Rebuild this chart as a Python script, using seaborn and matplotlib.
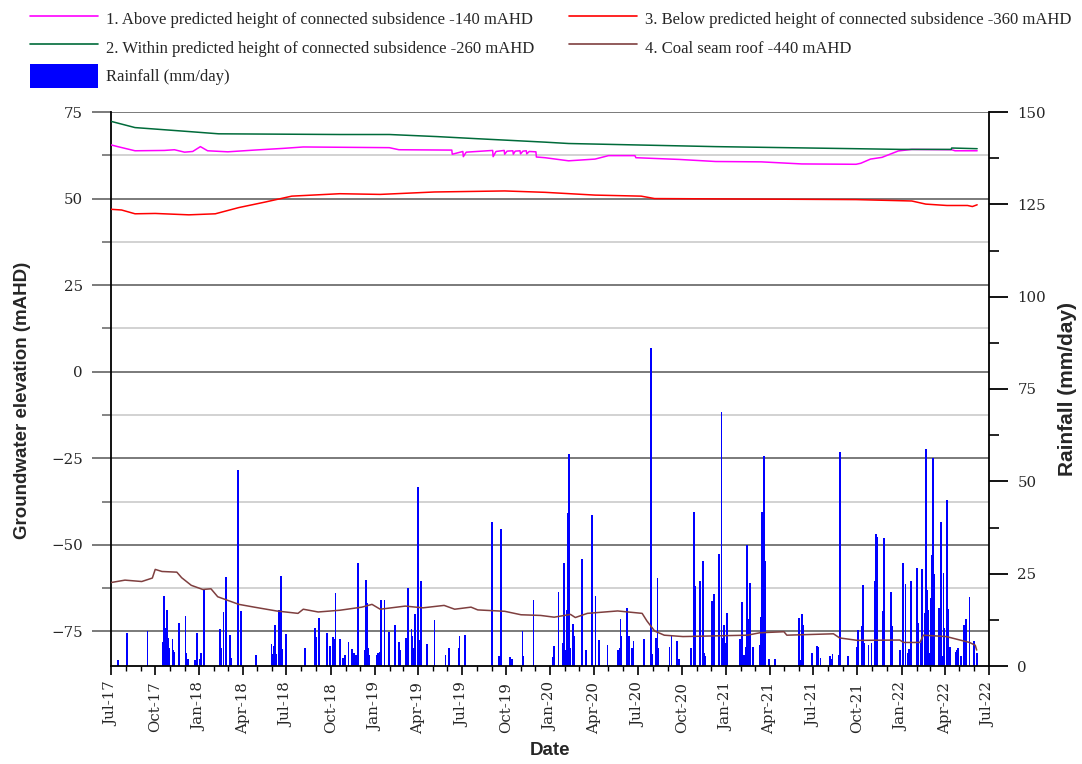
import matplotlib
matplotlib.use('Agg')
import matplotlib.pyplot as plt
import matplotlib.dates as mdates
from matplotlib.ticker import MultipleLocator
from matplotlib.lines import Line2D
from matplotlib.patches import Patch
import seaborn as sns
import pandas as pd

sns.set_style('white')
plt.rcParams['font.family'] = ['DejaVu Serif']

# ---------------- data ----------------
s1_dates = ['2017-07-01', '2017-07-15', '2017-08-20', '2017-10-20', '2017-11-10', '2017-12-01',
            '2017-12-18', '2018-01-03', '2018-01-18', '2018-03-01', '2018-04-25', '2018-06-25',
            '2018-08-05', '2019-01-31', '2019-02-20', '2019-06-10', '2019-06-11', '2019-07-03',
            '2019-07-04', '2019-07-10', '2019-09-03', '2019-09-04', '2019-09-10', '2019-09-27',
            '2019-09-28', '2019-10-03', '2019-10-15', '2019-10-16', '2019-10-20', '2019-10-30',
            '2019-10-31', '2019-11-05', '2019-11-12', '2019-11-13', '2019-11-18', '2019-12-02',
            '2019-12-03', '2019-12-21', '2020-02-08', '2020-04-03', '2020-05-01', '2020-06-25',
            '2020-06-27', '2020-09-25', '2020-12-10', '2021-03-15', '2021-06-07', '2021-09-28',
            '2021-10-08', '2021-10-28', '2021-11-21', '2021-12-25', '2022-01-22', '2022-04-15',
            '2022-04-22', '2022-06-07']
s1_vals = [65.5, 65.0, 63.8, 63.9, 64.1, 63.4,
           63.6, 65.0, 63.8, 63.5, 64.0, 64.5,
           64.9, 64.7, 64.1, 64.0, 62.8, 63.6,
           62.1, 63.4, 63.9, 62.1, 63.6, 63.9,
           62.8, 63.7, 63.8, 62.8, 63.7, 63.8,
           62.9, 63.7, 63.8, 62.9, 63.6, 63.5,
           62.0, 61.8, 60.9, 61.4, 62.4, 62.4,
           61.8, 61.3, 60.7, 60.6, 60.0, 59.9,
           60.2, 61.4, 61.9, 63.75, 64.2, 64.1,
           63.8, 63.8]

s2_dates = ['2017-07-01', '2017-08-20', '2017-12-15', '2018-02-10', '2018-10-20', '2019-01-31',
            '2019-05-10', '2019-07-31', '2019-12-20', '2020-02-08', '2020-12-10', '2021-09-28',
            '2021-12-30', '2022-04-14', '2022-04-15', '2022-06-07']
s2_vals = [72.3, 70.5, 69.3, 68.7, 68.5, 68.5,
           67.9, 67.3, 66.3, 65.9, 65.0, 64.4,
           64.2, 64.2, 64.6, 64.4]

s3_dates = ['2017-07-01', '2017-07-23', '2017-08-20', '2017-10-01', '2017-12-10', '2018-02-03',
            '2018-03-24', '2018-05-18', '2018-07-12', '2018-10-20', '2019-01-12', '2019-05-05',
            '2019-09-28', '2019-12-21', '2020-04-03', '2020-07-08', '2020-08-05', '2021-09-28',
            '2022-01-22', '2022-02-20', '2022-04-05', '2022-05-18', '2022-05-28', '2022-06-07']
s3_vals = [46.9, 46.7, 45.6, 45.7, 45.3, 45.6,
           47.4, 49.0, 50.7, 51.4, 51.2, 51.9,
           52.2, 51.8, 51.0, 50.7, 50.0, 49.7,
           49.3, 48.4, 48.0, 48.0, 47.7, 48.2]

s4_dates = ['2017-07-01', '2017-07-30', '2017-09-03', '2017-09-25', '2017-10-01', '2017-10-15',
            '2017-11-15', '2017-11-25', '2017-12-15', '2018-01-08', '2018-01-25', '2018-02-08',
            '2018-03-24', '2018-04-25', '2018-06-10', '2018-07-25', '2018-08-05', '2018-09-05',
            '2018-10-20', '2018-12-05', '2018-12-26', '2019-01-12', '2019-03-05', '2019-04-11',
            '2019-05-25', '2019-06-16', '2019-07-20', '2019-08-03', '2019-09-28', '2019-11-01',
            '2019-12-12', '2020-01-09', '2020-02-12', '2020-02-22', '2020-03-18', '2020-05-20',
            '2020-07-10', '2020-07-20', '2020-08-05', '2020-08-25', '2020-10-03', '2021-02-14',
            '2021-03-12', '2021-05-01', '2021-05-07', '2021-08-12', '2021-08-25', '2021-10-01',
            '2021-12-28', '2022-01-05', '2022-02-08', '2022-02-15', '2022-04-04', '2022-05-22',
            '2022-06-03', '2022-06-06']
s4_vals = [-60.9, -60.2, -60.6, -59.6, -57.1, -57.7,
           -57.9, -59.5, -61.7, -62.9, -62.7, -65.0,
           -67.2, -68.0, -69.1, -69.8, -68.6, -69.4,
           -68.9, -68.0, -67.2, -68.6, -67.7, -68.2,
           -67.5, -68.6, -68.0, -68.8, -69.2, -70.2,
           -70.4, -70.9, -70.1, -71.0, -69.8, -69.1,
           -69.8, -72.0, -74.9, -76.1, -76.5, -76.1,
           -75.4, -75.1, -76.1, -75.7, -76.9, -77.6,
           -77.5, -78.2, -78.2, -76.1, -76.5, -78.2,
           -79.0, -80.4]

rain_dates = ['2017-07-14', '2017-08-03', '2017-09-14', '2017-10-15', '2017-10-19', '2017-10-21',
              '2017-10-22', '2017-10-24', '2017-10-27', '2017-10-28', '2017-11-05', '2017-11-07',
              '2017-11-09', '2017-11-18', '2017-12-02', '2017-12-04', '2017-12-07', '2017-12-22',
              '2017-12-26', '2017-12-27', '2018-01-02', '2018-01-04', '2018-01-09', '2018-02-11',
              '2018-02-13', '2018-02-19', '2018-02-25', '2018-03-05', '2018-03-07', '2018-03-20',
              '2018-03-22', '2018-03-27', '2018-04-28', '2018-05-30', '2018-06-01', '2018-06-04',
              '2018-06-06', '2018-06-08', '2018-06-14', '2018-06-19', '2018-06-21', '2018-06-29',
              '2018-08-07', '2018-08-28', '2018-08-30', '2018-09-05', '2018-09-22', '2018-09-29',
              '2018-10-04', '2018-10-06', '2018-10-10', '2018-10-19', '2018-10-26', '2018-10-30',
              '2018-11-06', '2018-11-13', '2018-11-18', '2018-11-22', '2018-11-26', '2018-12-11',
              '2018-12-12', '2018-12-14', '2018-12-16', '2018-12-18', '2019-01-04', '2019-01-07',
              '2019-01-10', '2019-01-12', '2019-01-20', '2019-01-29', '2019-02-10', '2019-02-20',
              '2019-02-22', '2019-03-06', '2019-03-09', '2019-03-17', '2019-03-19', '2019-03-21',
              '2019-03-24', '2019-03-30', '2019-04-02', '2019-04-05', '2019-04-18', '2019-05-04',
              '2019-05-27', '2019-06-04', '2019-06-23', '2019-06-25', '2019-07-06', '2019-08-31',
              '2019-09-16', '2019-09-19', '2019-10-08', '2019-10-11', '2019-10-13', '2019-11-03',
              '2019-11-05', '2019-11-26', '2020-01-06', '2020-01-08', '2020-01-17', '2020-01-26',
              '2020-01-28', '2020-01-30', '2020-02-01', '2020-02-04', '2020-02-06', '2020-02-08',
              '2020-02-10', '2020-02-17', '2020-02-19', '2020-03-05', '2020-03-15', '2020-03-26',
              '2020-03-27', '2020-04-03', '2020-04-11', '2020-04-28', '2020-05-19', '2020-05-23',
              '2020-05-25', '2020-05-27', '2020-06-07', '2020-06-12', '2020-06-17', '2020-06-21',
              '2020-07-12', '2020-07-14', '2020-07-27', '2020-07-29', '2020-08-07', '2020-08-10',
              '2020-08-12', '2020-09-04', '2020-09-08', '2020-09-19', '2020-09-23', '2020-10-18',
              '2020-10-24', '2020-10-26', '2020-10-28', '2020-11-06', '2020-11-12', '2020-11-14',
              '2020-11-16', '2020-12-01', '2020-12-05', '2020-12-15', '2020-12-17', '2020-12-21',
              '2020-12-24', '2020-12-26', '2020-12-28', '2021-01-01', '2021-01-28', '2021-02-02',
              '2021-02-05', '2021-02-10', '2021-02-13', '2021-02-15', '2021-02-18', '2021-02-24',
              '2021-03-11', '2021-03-13', '2021-03-15', '2021-03-16', '2021-03-17', '2021-03-19',
              '2021-03-20', '2021-03-22', '2021-03-29', '2021-04-12', '2021-06-01', '2021-06-04',
              '2021-06-07', '2021-06-09', '2021-06-27', '2021-07-08', '2021-07-10', '2021-07-15',
              '2021-08-03', '2021-08-07', '2021-08-09', '2021-08-22', '2021-08-24', '2021-09-11',
              '2021-09-29', '2021-10-01', '2021-10-09', '2021-10-11', '2021-10-14', '2021-10-23',
              '2021-10-29', '2021-11-05', '2021-11-07', '2021-11-09', '2021-11-10', '2021-11-22',
              '2021-11-24', '2021-11-25', '2021-12-08', '2021-12-10', '2021-12-27', '2022-01-03',
              '2022-01-08', '2022-01-12', '2022-01-15', '2022-01-19', '2022-01-31', '2022-02-01',
              '2022-02-04', '2022-02-09', '2022-02-11', '2022-02-17', '2022-02-19', '2022-02-21',
              '2022-02-23', '2022-02-25', '2022-02-27', '2022-03-01', '2022-03-03', '2022-03-05',
              '2022-03-06', '2022-03-08', '2022-03-18', '2022-03-23', '2022-03-26', '2022-03-28',
              '2022-03-30', '2022-04-05', '2022-04-07', '2022-04-11', '2022-04-22', '2022-04-24',
              '2022-04-27', '2022-05-04', '2022-05-09', '2022-05-11', '2022-05-13', '2022-05-21',
              '2022-05-30', '2022-06-06']
rain_vals = [1.6, 9.0, 9.5, 6.6, 19.0, 10.2,
             5.7, 15.2, 7.5, 5.0, 7.3, 4.2,
             3.9, 11.7, 13.5, 3.6, 1.9, 1.6,
             9.0, 5.2, 2.0, 3.6, 20.8, 10.0,
             5.0, 14.7, 24.2, 8.4, 2.3, 5.0,
             53.0, 14.9, 3.0, 6.0, 3.2, 5.4,
             11.1, 3.2, 15.2, 24.5, 4.5, 8.7,
             4.8, 10.2, 7.8, 12.9, 9.0, 5.5,
             7.9, 7.2, 19.9, 7.3, 2.1, 3.0,
             6.6, 4.5, 3.6, 3.0, 28.0, 4.3,
             23.3, 17.1, 4.8, 3.0, 3.0, 3.6,
             3.9, 18.0, 18.0, 9.3, 11.1, 6.6,
             4.3, 7.7, 21.0, 10.0, 8.1, 4.8,
             14.1, 48.5, 7.0, 23.0, 6.0, 12.5,
             3.0, 4.8, 4.8, 8.1, 8.4, 39.0,
             2.7, 37.1, 2.4, 1.6, 2.0, 9.5,
             2.7, 17.9, 2.5, 5.4, 20.1, 6.1,
             27.8, 4.3, 1.8, 15.2, 41.4, 57.4,
             4.8, 11.5, 8.0, 29.0, 4.3, 41.0,
             4.6, 19.0, 7.0, 5.7, 4.3, 4.8,
             12.7, 8.1, 15.6, 8.1, 5.0, 6.9,
             7.3, 5.0, 86.1, 3.3, 7.5, 23.8,
             4.8, 5.2, 8.1, 6.9, 2.0, 5.0,
             41.7, 23.3, 21.7, 23.0, 28.4, 3.6,
             2.7, 17.6, 19.5, 30.3, 4.5, 68.8,
             7.5, 11.1, 6.3, 14.3, 7.2, 17.2,
             3.0, 5.1, 32.8, 12.7, 22.4, 5.2,
             5.7, 13.2, 34.1, 41.7, 37.7, 56.9,
             37.5, 28.5, 2.0, 1.8, 13.1, 1.6,
             14.1, 11.1, 3.4, 5.5, 5.1, 2.1,
             2.7, 1.8, 3.3, 3.0, 58.0, 2.7,
             5.2, 9.7, 10.8, 21.9, 6.1, 5.7,
             6.3, 23.0, 35.7, 23.0, 35.0, 15.0,
             25.3, 34.7, 20.1, 10.8, 4.3, 28.0,
             22.1, 3.6, 4.6, 23.1, 26.6, 12.5,
             11.6, 6.3, 26.2, 14.3, 58.8, 20.6,
             15.2, 3.4, 3.6, 18.5, 30.0, 26.4,
             56.2, 24.8, 15.8, 39.0, 2.7, 25.1,
             10.2, 45.0, 15.3, 5.1, 3.9, 4.2,
             4.8, 2.7, 11.1, 8.1, 12.7, 18.8,
             6.9, 3.6]

labels = ['1. Above predicted height of connected subsidence -140 mAHD',
          '2. Within predicted height of connected subsidence -260 mAHD',
          '3. Below predicted height of connected subsidence -360 mAHD',
          '4. Coal seam roof -440 mAHD',
          'Rainfall (mm/day)']
colors = ['#FF00FF', '#006B3A', '#FF0000', '#7F3F3F', '#0000FF']

# ---------------- figure ----------------
fig = plt.figure(figsize=(10.82, 7.64), dpi=100)
pos = [111 / 1082, 98 / 764, 877.7 / 1082, 554 / 764]
ax1 = fig.add_axes(pos)                 # left axis + grid
ax2 = ax1.twinx()                       # rainfall (right axis)
ax3 = fig.add_axes(pos, sharex=ax1, sharey=ax1)  # groundwater lines on top
ax1.set_zorder(0)
ax2.set_zorder(1)
ax3.set_zorder(2)
ax2.patch.set_visible(False)
ax3.patch.set_visible(False)

# rainfall bars
ax2.bar(pd.to_datetime(rain_dates), rain_vals, width=1.8, color=colors[4],
        edgecolor=colors[4], linewidth=0.7, align='center', antialiased=False)

# groundwater lines
series = [(s1_dates, s1_vals), (s2_dates, s2_vals), (s3_dates, s3_vals), (s4_dates, s4_vals)]
for (d, v), c in zip(series, colors[:4]):
    df = pd.DataFrame({'date': pd.to_datetime(d), 'val': v})
    sns.lineplot(data=df, x='date', y='val', ax=ax3, color=c, lw=1.1, legend=False,
                 estimator=None, sort=False)
ax3.axis('off')

# limits
ax1.set_xlim(pd.Timestamp('2017-07-01'), pd.Timestamp('2022-07-01'))
ax1.set_ylim(-85, 75)
ax2.set_ylim(0, 150)

# left axis ticks and grid
ax1.yaxis.set_major_locator(MultipleLocator(25))
ax1.yaxis.set_minor_locator(MultipleLocator(12.5))
ax1.grid(which='major', axis='y', color='#707070', lw=1.3)
ax1.grid(which='minor', axis='y', color='#cbcbcb', lw=1.2)
ax1.grid(which='both', axis='x', visible=False)
ax1.tick_params(axis='y', which='major', direction='out', length=13.7, width=1.3,
                color='#707070', pad=6.5, labelsize=10.8, left=True)
ax1.tick_params(axis='y', which='minor', direction='out', length=6.8, width=1.2,
                color='#707070', left=True)
for s in ax1.spines.values():
    s.set_visible(False)

# x axis
ax1.xaxis.set_major_locator(mdates.MonthLocator(bymonth=[1, 4, 7, 10]))
ax1.xaxis.set_minor_locator(mdates.MonthLocator())
ax1.xaxis.set_major_formatter(mdates.DateFormatter('%b-%y'))
ax1.tick_params(axis='x', which='major', direction='out', length=6.5, width=1.2,
                color='black', pad=4.8, labelsize=10.8, labelrotation=90, bottom=True)
ax1.tick_params(axis='x', which='minor', direction='out', length=3.6, width=1.0,
                color='black', bottom=True)

# right axis
ax2.yaxis.set_major_locator(MultipleLocator(25))
ax2.yaxis.set_minor_locator(MultipleLocator(12.5))
ax2.tick_params(axis='y', which='major', direction='out', length=13.7, width=1.3,
                color='black', pad=7, labelsize=10.8, right=True)
ax2.tick_params(axis='y', which='minor', direction='out', length=7, width=1.2,
                color='black', right=True)
ax2.spines['top'].set_visible(False)
for k in ['left', 'right', 'bottom']:
    ax2.spines[k].set_visible(True)
    ax2.spines[k].set_color('black')
    ax2.spines[k].set_linewidth(1.3)

# axis labels
lab_font = dict(family='Liberation Sans', weight='bold', size=13.5)
ax1.set_ylabel('Groundwater elevation (mAHD)', **lab_font)
ax1.yaxis.set_label_coords(-0.1005, 0.48)
ax1.yaxis.label.set_va('center')
ax2.set_ylabel('Rainfall (mm/day)', family='Liberation Sans', weight='bold', size=15,
               rotation=90)
ax2.yaxis.set_label_coords(1.09, 0.5)
ax2.yaxis.label.set_va('center')
ax1.set_xlabel('Date', **lab_font)
ax1.xaxis.set_label_coords(0.5, -0.152)
ax1.xaxis.label.set_va('center')

# legend
handles = [Line2D([], [], color=colors[0], lw=1.2),
           Line2D([], [], color=colors[1], lw=1.2),
           Patch(facecolor=colors[4], edgecolor='none'),
           Line2D([], [], color=colors[2], lw=1.2),
           Line2D([], [], color=colors[3], lw=1.2)]
leg_labels = [labels[0], labels[1], labels[4], labels[2], labels[3]]
fig.legend(handles, leg_labels, ncol=2, loc='upper left',
           bbox_to_anchor=(30 / 1082, 1 - 7 / 764), frameon=False,
           prop=dict(family='Liberation Serif', size=12),
           handlelength=4.08, handleheight=1.8, handletextpad=0.48,
           columnspacing=2.1, labelspacing=0.30, borderpad=0, borderaxespad=0)

fig.savefig('out.png', dpi=100)
